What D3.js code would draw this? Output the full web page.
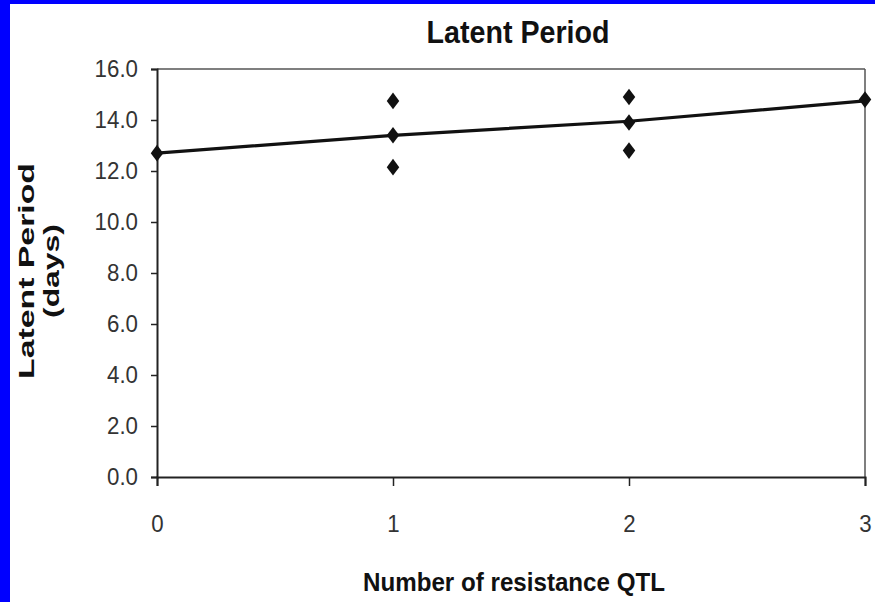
<!DOCTYPE html>
<html><head><meta charset="utf-8">
<script src="https://cdn.jsdelivr.net/npm/d3@7"></script>
<style>
html,body{margin:0;padding:0;background:#fff;}
svg{display:block;}
</style>
</head><body>
<svg id="c" width="875" height="602"></svg>
<script>
const title = "Latent Period";
const xTitle = "Number of resistance QTL";
const yTitle1 = "Latent Period";
const yTitle2 = "(days)";
const xTicks = [0, 1, 2, 3];
const yTicks = [0, 2, 4, 6, 8, 10, 12, 14, 16];
const pointX = [0, 1, 1, 1, 2, 2, 2, 3];
const pointY = [12.7, 14.75, 13.4, 12.15, 14.9, 13.9, 12.8, 14.8];
const lineX = [0, 1, 2, 3];
const lineY = [12.7, 13.4, 13.95, 14.75];

const FONT = "'Liberation Sans',Arial,sans-serif";
function squeeze(sel, k){
  sel.each(function(){
    const w = this.getComputedTextLength();
    this.setAttribute("textLength", (w*k).toFixed(1));
    this.setAttribute("lengthAdjust","spacingAndGlyphs");
  });
}

const svg = d3.select("#c");
svg.append("rect").attr("x",0).attr("y",0).attr("width",875).attr("height",602).attr("fill","#0000ff");
svg.append("rect").attr("x",10).attr("y",4).attr("width",865).attr("height",598).attr("fill","#fff");

const L=157, R=865, T=69, B=477;
const x = d3.scaleLinear().domain([0,3]).range([L,R]);
const y = d3.scaleLinear().domain([0,16]).range([B,T]);

svg.append("line").attr("x1",L).attr("x2",R).attr("y1",T).attr("y2",T).attr("stroke","#555").attr("stroke-width",1.5);
svg.append("line").attr("x1",R).attr("x2",R).attr("y1",T).attr("y2",B).attr("stroke","#555").attr("stroke-width",1.5);

const yAxis = svg.append("g").attr("transform",`translate(${L},0)`)
  .call(d3.axisLeft(y).tickValues(yTicks).tickFormat(d3.format(".1f")).tickSize(6).tickPadding(13));
yAxis.attr("font-family",FONT).attr("font-size",24);
yAxis.select(".domain").attr("stroke","#222").attr("stroke-width",2);
yAxis.selectAll(".tick line").attr("stroke","#222").attr("stroke-width",1.5);
yAxis.selectAll("text").attr("fill","#333");
squeeze(yAxis.selectAll("text"), 0.93);

const xAxis = svg.append("g").attr("transform",`translate(0,${B})`)
  .call(d3.axisBottom(x).tickValues(xTicks).tickFormat(d3.format("d")).tickSize(9).tickPadding(29));
xAxis.attr("font-family",FONT).attr("font-size",24);
xAxis.select(".domain").attr("stroke","#222").attr("stroke-width",2);
xAxis.selectAll(".tick line").attr("stroke","#222").attr("stroke-width",1.5);
xAxis.selectAll("text").attr("fill","#333");
squeeze(xAxis.selectAll("text"), 0.93);

svg.append("path").datum(lineX.map((d,i)=>[d,lineY[i]]))
  .attr("d", d3.line().x(d=>x(d[0])).y(d=>y(d[1])))
  .attr("fill","none").attr("stroke","#111").attr("stroke-width",3.2);

const diamond = d3.symbol().type(d3.symbolDiamond).size(80);
svg.append("g").selectAll("path").data(pointX.map((d,i)=>[d,pointY[i]])).join("path")
  .attr("d", diamond)
  .attr("transform", d=>`translate(${x(d[0])},${y(d[1])}) scale(1.3,1)`)
  .attr("fill","#111");

svg.append("text").attr("x",518).attr("y",43).attr("text-anchor","middle")
  .attr("font-family",FONT).attr("font-size",32).attr("font-weight","bold").attr("fill","#111")
  .attr("textLength",183).attr("lengthAdjust","spacingAndGlyphs").text(title);
svg.append("text").attr("x",514).attr("y",591).attr("text-anchor","middle")
  .attr("font-family",FONT).attr("font-size",26).attr("font-weight","bold").attr("fill","#111")
  .attr("textLength",302).attr("lengthAdjust","spacingAndGlyphs").text(xTitle);

const yt = svg.append("g").attr("font-family",FONT).attr("font-weight","bold").attr("font-size",22).attr("fill","#111");
yt.append("text").attr("transform","translate(34,271) rotate(-90)").attr("text-anchor","middle")
  .attr("textLength",216).attr("lengthAdjust","spacingAndGlyphs").text(yTitle1);
yt.append("text").attr("transform","translate(59,271) rotate(-90)").attr("text-anchor","middle")
  .attr("textLength",94).attr("lengthAdjust","spacingAndGlyphs").text(yTitle2);
</script>
</body></html>
